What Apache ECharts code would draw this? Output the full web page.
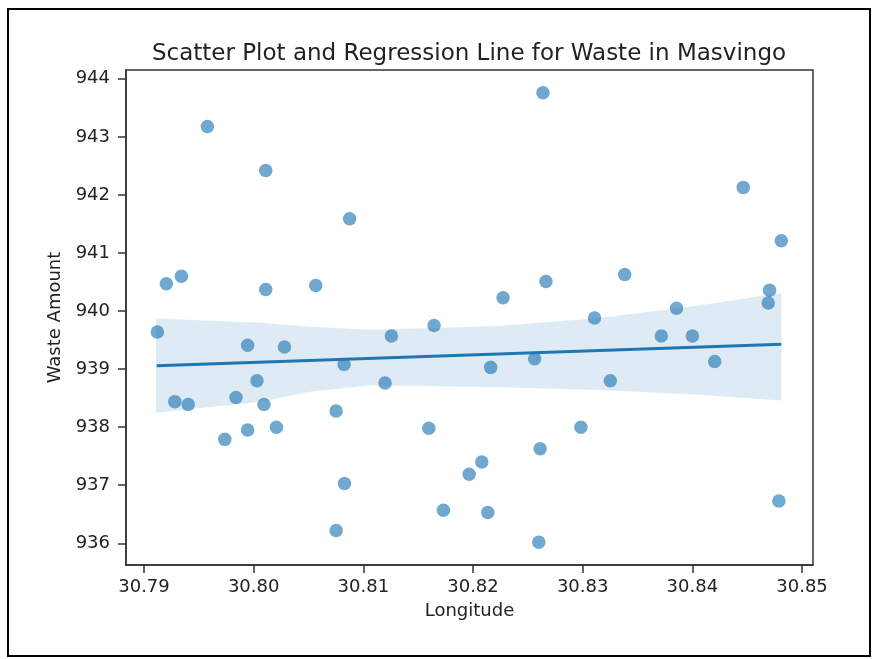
<!DOCTYPE html>
<html>
<head>
<meta charset="utf-8">
<title>Waste in Masvingo</title>
<script src="https://cdn.jsdelivr.net/npm/echarts@6/dist/echarts.min.js"></script>
<style>
    html, body { margin: 0; padding: 0; background: #fff; }
    #chart { width: 878px; height: 659px; }
</style>
</head>
<body>
<div id="chart"></div>
<script>
// scatter points
var longitude = [
    30.79578, 30.80110, 30.80875, 30.79204, 30.79341, 30.80110, 30.80566, 30.82638, 30.84464, 30.84811,
    30.82274, 30.82665, 30.83383, 30.84704, 30.84692, 30.83856, 30.83108, 30.79122, 30.79281, 30.79403,
    30.79839, 30.79945, 30.80030, 30.80094, 30.79945, 30.79737, 30.80208, 30.80281, 30.80825, 30.80752,
    30.80828, 30.80752, 30.81256, 30.81198, 30.81645, 30.81597, 30.81965, 30.81730, 30.82080, 30.82135,
    30.82600, 30.82612, 30.82984, 30.82161, 30.82562, 30.83252, 30.83717, 30.84000, 30.84204, 30.84789
];
var wasteAmount = [
    943.18, 942.42, 941.59, 940.47, 940.60, 940.37, 940.44, 943.76, 942.13, 941.21,
    940.23, 940.51, 940.63, 940.36, 940.14, 940.05, 939.88, 939.64, 938.44, 938.39,
    938.51, 939.41, 938.80, 938.39, 937.95, 937.79, 938.00, 939.38, 939.08, 938.28,
    937.03, 936.22, 939.57, 938.76, 939.75, 937.98, 937.19, 936.57, 937.40, 936.53,
    936.02, 937.63, 938.00, 939.03, 939.18, 938.80, 939.57, 939.57, 939.13, 936.73
];

// regression line end points
var fitLon = [30.79116, 30.84811];
var fitWaste = [939.06, 939.43];

// confidence band
var bandLon = [30.79110, 30.80058, 30.80514, 30.81062, 30.82184, 30.83160, 30.84073, 30.84811];
var bandUpper = [939.87, 939.80, 939.73, 939.68, 939.74, 939.88, 940.10, 940.31];
var bandLower = [938.25, 938.44, 938.61, 938.72, 938.69, 938.64, 938.56, 938.46];

// tick labels
var xTicks = [30.79, 30.80, 30.81, 30.82, 30.83, 30.84, 30.85];
var yTicks = [936, 937, 938, 939, 940, 941, 942, 943, 944];

var fontFamily = 'DejaVu Sans';
var textColor = '#222';
var axisColor = '#333';

var chart = echarts.init(document.getElementById('chart'));

var points = longitude.map(function (lon, i) {
    return [lon, wasteAmount[i]];
});
var fitData = fitLon.map(function (lon, i) {
    return [lon, fitWaste[i]];
});
var bandData = bandLon.map(function (lon, i) {
    return [lon, bandLower[i], bandUpper[i]];
});

chart.setOption({
    animation: false,
    title: {
        text: 'Scatter Plot and Regression Line for Waste in Masvingo',
        left: 464,
        top: 38,
        textAlign: 'center',
        textStyle: {
            fontFamily: fontFamily,
            fontSize: 23,
            fontWeight: 'normal',
            color: textColor
        }
    },
    graphic: [{
        type: 'rect',
        shape: {x: 8, y: 9, width: 862, height: 647},
        style: {fill: null, stroke: '#000', lineWidth: 2},
        silent: true
    }],
    grid: {
        left: 126,
        right: 65,
        top: 70,
        bottom: 94,
        show: true,
        borderColor: axisColor,
        borderWidth: 1.5
    },
    xAxis: {
        type: 'value',
        min: 30.78836,
        max: 30.85100,
        name: 'Longitude',
        nameLocation: 'middle',
        nameGap: 37,
        nameTextStyle: {fontFamily: fontFamily, fontSize: 18, color: textColor},
        axisLine: {show: true, lineStyle: {color: axisColor, width: 1.5}},
        axisTick: {show: true, length: 8, inside: false, customValues: xTicks, lineStyle: {color: axisColor, width: 1.5}},
        axisLabel: {
            customValues: xTicks,
            margin: 13,
            fontFamily: fontFamily,
            fontSize: 18,
            color: textColor,
            formatter: function (v) { return v.toFixed(2); }
        },
        splitLine: {show: false}
    },
    yAxis: {
        type: 'value',
        min: 935.626,
        max: 944.152,
        name: 'Waste Amount',
        nameLocation: 'middle',
        nameGap: 60,
        nameTextStyle: {fontFamily: fontFamily, fontSize: 18, color: textColor},
        axisLine: {show: true, lineStyle: {color: axisColor, width: 1.5}},
        axisTick: {show: true, length: 8, inside: false, customValues: yTicks, lineStyle: {color: axisColor, width: 1.5}},
        axisLabel: {
            customValues: yTicks,
            margin: 16,
            fontFamily: fontFamily,
            fontSize: 18,
            color: textColor,
            formatter: function (v) { return String(Math.round(v)); }
        },
        splitLine: {show: false}
    },
    series: [
        {
            name: 'points',
            type: 'scatter',
            data: points,
            symbolSize: 13.5,
            itemStyle: {color: 'rgba(31,119,180,0.8)'},
            z: 2
        },
        {
            name: 'ci',
            type: 'custom',
            data: bandData,
            encode: {x: 0, y: [1, 2]},
            z: 3,
            renderItem: function (params, api) {
                if (params.dataIndex !== 0) return null;
                var top = [], bottom = [];
                for (var i = 0; i < bandData.length; i++) {
                    top.push(api.coord([bandData[i][0], bandData[i][2]]));
                    bottom.unshift(api.coord([bandData[i][0], bandData[i][1]]));
                }
                return {
                    type: 'polygon',
                    shape: {points: top.concat(bottom)},
                    style: {fill: 'rgba(31,119,180,0.15)', stroke: null}
                };
            }
        },
        {
            name: 'fit',
            type: 'line',
            data: fitData,
            symbol: 'none',
            lineStyle: {color: '#1f77b4', width: 3},
            z: 4
        }
    ]
});

window.addEventListener('resize', function () {
    chart.resize();
});
</script>
</body>
</html>
